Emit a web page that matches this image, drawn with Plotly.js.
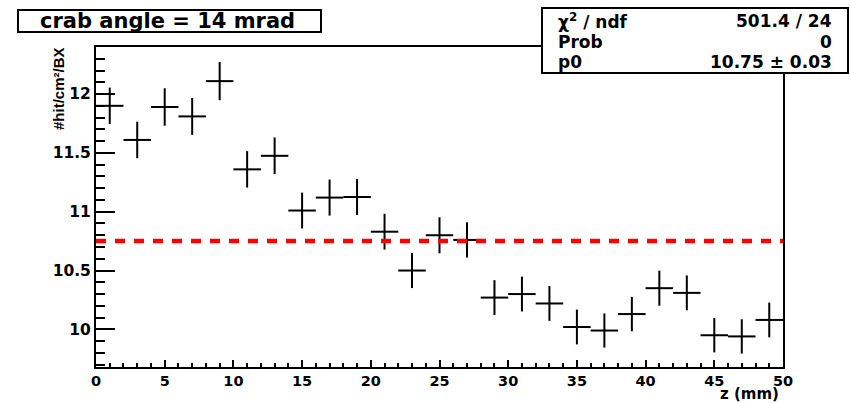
<!DOCTYPE html>
<html>
<head>
<meta charset="utf-8">
<script src="https://cdn.plot.ly/plotly-3.0.1.min.js"></script>
<style>
  html, body { margin: 0; padding: 0; background: #ffffff; }
  #chart { width: 850px; height: 403px; }
</style>
</head>
<body>
<div id="chart"></div>
<script>
// ---- data ----
const zCenters = [1, 3, 5, 7, 9, 11, 13, 15, 17, 19, 21, 23, 25, 27, 29, 31, 33, 35, 37, 39, 41, 43, 45, 47, 49];
const hitValues = [11.90, 11.61, 11.89, 11.81, 12.11, 11.36, 11.475, 11.01, 11.12, 11.125, 10.83, 10.50, 10.80, 10.76, 10.27, 10.30, 10.22, 10.02, 9.99, 10.13, 10.35, 10.31, 9.95, 9.94, 10.08];
const hitErrors = [0.155, 0.155, 0.159, 0.157, 0.162, 0.155, 0.156, 0.152, 0.153, 0.153, 0.152, 0.149, 0.153, 0.150, 0.148, 0.148, 0.148, 0.148, 0.145, 0.146, 0.149, 0.148, 0.146, 0.146, 0.148];
const binHalfWidth = 1;
const fitRange = [0, 50];
const fitP0 = 10.75;
const titleText = "crab angle = 14 mrad";
const statLabels = ["χ<sup>2</sup> / ndf", "Prob", "p0"];
const statValues = ["501.4 / 24", "0", "10.75 ± 0.03"];
const xTitle = "z (mm)";
const yTitle = "#hit/cm²/BX";

// ---- layout helpers (plot area: x 96..783 px, y 47..367 px) ----
const PL = 96, PR = 783, PT = 47, PB = 367;
const px = p => (p - PL) / (PR - PL);
const py = p => (PB - p) / (PB - PT);

const FONT = "DejaVu Sans, Liberation Sans, Arial, sans-serif";

const dataTrace = {
  type: "scatter",
  mode: "markers",
  x: zCenters,
  y: hitValues,
  marker: { size: 2, color: "black" },
  error_y: { type: "data", array: hitErrors, visible: true, color: "black", thickness: 2, width: 0 },
  error_x: { type: "constant", value: binHalfWidth, visible: true, color: "black", thickness: 2, width: 0 },
  hoverinfo: "skip",
  showlegend: false
};

const fitTrace = {
  type: "scatter",
  mode: "lines",
  x: fitRange,
  y: fitRange.map(() => fitP0),
  line: { color: "#ff0000", width: 4.5, dash: "10px,9px" },
  hoverinfo: "skip",
  showlegend: false
};

const annotations = [
  { xref: "paper", yref: "paper", x: px(167), y: py(21), xanchor: "center", yanchor: "middle",
    text: titleText, showarrow: false, font: { family: FONT, size: 21, color: "black", weight: "bold" } },
  { xref: "paper", yref: "paper", x: px(58), y: py(89), xanchor: "center", yanchor: "middle", textangle: -90,
    text: yTitle, showarrow: false, font: { family: "Liberation Sans, Arial, sans-serif", size: 15, color: "black", weight: "bold" } },
  { xref: "paper", yref: "paper", x: px(781), y: py(394), xanchor: "right", yanchor: "middle",
    text: xTitle, showarrow: false, font: { family: FONT, size: 15, color: "black", weight: "bold" } }
];
const rowY = [20.5, 41.5, 62];
statLabels.forEach((t, i) => {
  annotations.push({ xref: "paper", yref: "paper", x: px(556), y: py(rowY[i]), xanchor: "left", yanchor: "middle",
    text: t, showarrow: false, font: { family: FONT, size: 17, color: "black", weight: "bold" } });
});
statValues.forEach((t, i) => {
  annotations.push({ xref: "paper", yref: "paper", x: px(834), y: py(rowY[i]), xanchor: "right", yanchor: "middle",
    text: t, showarrow: false, font: { family: FONT, size: 17, color: "black", weight: "bold" } });
});

const shapes = [
  { type: "rect", xref: "paper", yref: "paper", x0: px(18), x1: px(321), y0: py(32), y1: py(10),
    line: { color: "black", width: 2 }, fillcolor: "white", layer: "above" },
  { type: "rect", xref: "paper", yref: "paper", x0: px(542), x1: px(848), y0: py(73), y1: py(8),
    line: { color: "black", width: 2 }, fillcolor: "white", layer: "above" }
];

const layout = {
  width: 850,
  height: 403,
  margin: { l: PL, r: 850 - PR, t: PT, b: 403 - PB, pad: 0 },
  paper_bgcolor: "white",
  plot_bgcolor: "white",
  showlegend: false,
  xaxis: {
    range: [0, 50],
    tick0: 0, dtick: 5,
    ticks: "inside", ticklen: 7, tickwidth: 2, tickcolor: "black",
    minor: { dtick: 1, ticks: "inside", ticklen: 4, tickwidth: 2, tickcolor: "black" },
    showline: true, linecolor: "black", linewidth: 2, mirror: true,
    showgrid: false, zeroline: false,
    tickfont: { family: FONT, size: 14.5, color: "black", weight: "bold" },
    fixedrange: true
  },
  yaxis: {
    range: [9.68, 12.40],
    tick0: 0, dtick: 0.5,
    ticks: "inside", ticklen: 19, tickwidth: 2, tickcolor: "black",
    minor: { dtick: 0.1, ticks: "inside", ticklen: 9, tickwidth: 2, tickcolor: "black" },
    showline: true, linecolor: "black", linewidth: 2, mirror: true,
    showgrid: false, zeroline: false,
    tickfont: { family: FONT, size: 15.5, color: "black", weight: "bold" },
    fixedrange: true
  },
  shapes: shapes,
  annotations: annotations
};

Plotly.newPlot("chart", [dataTrace, fitTrace], layout, { staticPlot: true, displayModeBar: false });
</script>
</body>
</html>
